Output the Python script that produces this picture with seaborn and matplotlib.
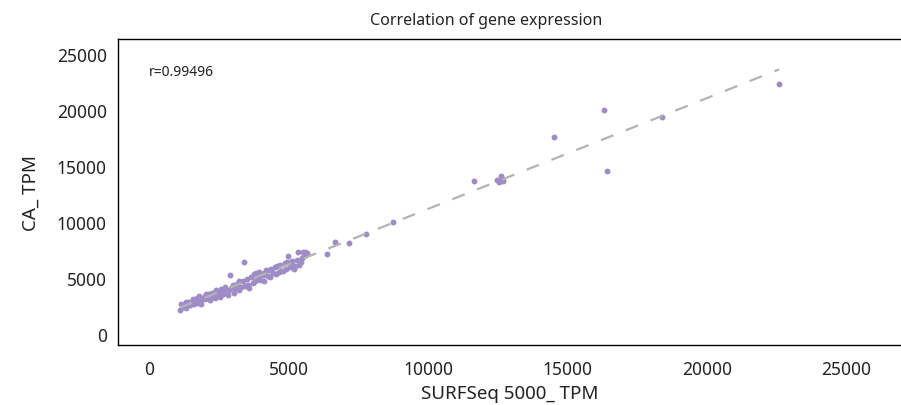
import pandas as pd
import numpy as np
import matplotlib
matplotlib.use('Agg')
import matplotlib.pyplot as plt
import seaborn as sns

sns.set_style('white')
plt.rcParams['font.family'] = ['Noto Sans', 'DejaVu Sans']

# SURFSeq 5000 TPM vs CA TPM per gene
surf_tpm = [
    1100, 1130, 1210, 1240, 1310, 1330, 1420, 1460, 1490, 1570,
    1610, 1640, 1720, 1760, 1790, 1860, 1880, 1970, 2010, 2040,
    2120, 2140, 2190, 2270, 2290, 2360, 2410, 2440, 2520, 2560,
    2590, 2660, 2690, 2740, 2820, 2860, 2900, 2940, 3010, 3060,
    3090, 3170, 3210, 3240, 3290, 3360, 3400, 3440, 3510, 3560,
    3590, 3640, 3720, 3760, 3790, 3840, 3910, 3960, 3990, 4070,
    4110, 4140, 4190, 4260, 4310, 4340, 4390, 4460, 4520, 4540,
    4590, 4660, 4710, 4740, 4790, 4860, 4910, 4940, 5000, 5060,
    5110, 5140, 5210, 5240, 5310, 5350, 5390, 5440, 5490, 5520,
    5550, 5600, 5660,
    6380, 6670, 7170, 7780, 8750, 11650,
    12470, 12550, 12600, 12640, 12690,
    14520, 16300, 16420, 18390, 22580,
]
ca_tpm = [
    2150, 2700, 2400, 2600, 2300, 2850, 2900, 2550, 2750, 3100,
    2650, 2950, 3250, 2800, 3400, 3000, 2700, 3350, 3150, 3550,
    3250, 3600, 3000, 3700, 3400, 3250, 3900, 3450, 3700, 3350,
    4050, 3600, 3800, 4200, 3450, 3950, 5250, 4100, 4350, 3650,
    4150, 4450, 3900, 4700, 4200, 4750, 6450, 4250, 4950, 4400,
    4100, 5100, 4600, 5400, 4750, 5450, 5050, 5550, 4800, 5300,
    5450, 4700, 5700, 5200, 5750, 5100, 5800, 5450, 5950, 5350,
    6100, 5550, 6200, 5650, 5600, 6300, 5800, 6400, 7000, 5950,
    6200, 6500, 5800, 6100, 6650, 7350, 6150, 6400, 6750, 7350,
    6950, 7300, 7250,
    7140, 8210, 8125, 8930, 10000, 13660,
    13750, 13570, 14110, 13840, 13650,
    17590, 20000, 14550, 19375, 22320,
]
r_label = 'r=0.99496'

df = pd.DataFrame({'SURFSeq 5000_ TPM': surf_tpm, 'CA_ TPM': ca_tpm})

fig = plt.figure(figsize=(9.01, 4.06), dpi=100)
ax = fig.add_axes([118 / 901, 60 / 406, 783 / 901, 306 / 406])

sns.regplot(data=df, x='SURFSeq 5000_ TPM', y='CA_ TPM', scatter=False, ci=None,
            line_kws={'color': '#b3b3b3', 'lw': 1.6, 'dashes': (6, 6)}, ax=ax)
sns.scatterplot(data=df, x='SURFSeq 5000_ TPM', y='CA_ TPM', color='#9f8cc6',
                s=18, linewidth=0, ax=ax)

ax.set_xlim(-1110, 26950)
ax.set_ylim(-980, 26340)
ax.set_xticks([0, 5000, 10000, 15000, 20000, 25000])
ax.set_yticks([0, 5000, 10000, 15000, 20000, 25000])
ax.tick_params(length=0, labelsize=12.5, colors='#222222')
ax.tick_params(axis='x', pad=11)
ax.tick_params(axis='y', pad=8)
ax.text(0, 23400, r_label, fontsize=10, ha='left', va='center', color='#222222')

ax.set_title('Correlation of gene expression', fontsize=11.5, x=0.47, pad=11, color='#222222')
ax.set_xlabel('SURFSeq 5000_ TPM', fontsize=13.5, labelpad=4, color='#222222')
ax.set_ylabel('CA_ TPM', fontsize=13.5, labelpad=12, color='#222222')

for side in ['left', 'top', 'bottom']:
    ax.spines[side].set_color('black')
    ax.spines[side].set_linewidth(1.0)
ax.spines['right'].set_visible(False)

plt.savefig('out.png', dpi=100)
plt.close()
print('Saved: out.png')
